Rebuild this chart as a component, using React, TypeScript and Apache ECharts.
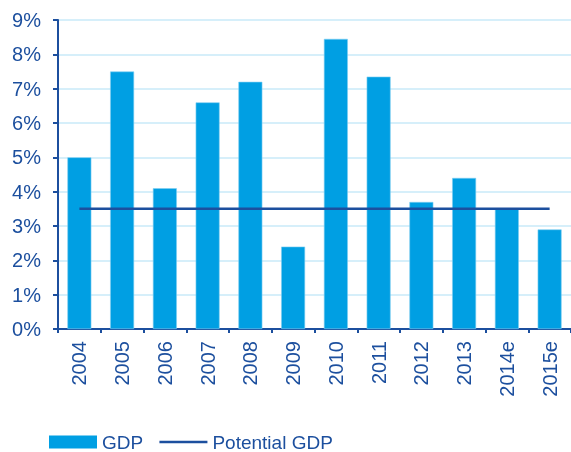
import React, { useEffect, useRef } from "react";
import * as echarts from "echarts";

const categories = ["2004", "2005", "2006", "2007", "2008", "2009", "2010", "2011", "2012", "2013", "2014e", "2015e"];
const gdp = [5.0, 7.5, 4.1, 6.6, 7.2, 2.4, 8.45, 7.35, 3.7, 4.4, 3.5, 2.9];
const potentialGdp = [3.5, 3.5, 3.5, 3.5, 3.5, 3.5, 3.5, 3.5, 3.5, 3.5, 3.5, 3.5];

const DARK = "#1C4F9E";
const BAR = "#009FE3";
const FONT = "'Liberation Sans', Arial, sans-serif";

export default function App() {
  const ref = useRef<HTMLDivElement>(null);
  useEffect(() => {
    if (!ref.current) return;
    const chart = echarts.init(ref.current, undefined, { renderer: "svg" });
    chart.setOption({
      animation: false,
      textStyle: { fontFamily: FONT },
      grid: { left: 58, right: 0, top: 20, bottom: 123, containLabel: false },
      legend: {
        left: 44,
        top: 426,
        itemWidth: 48,
        itemHeight: 13,
        itemGap: 15,
        padding: [5, 5, 5, 5],
        textStyle: { color: DARK, fontSize: 19, fontFamily: FONT, lineHeight: 22 },
        lineStyle: { width: 2.5, color: DARK },
        data: [
          { name: "GDP", icon: "rect", itemStyle: { color: BAR, borderWidth: 0 } },
          { name: "Potential GDP", itemStyle: { opacity: 0 } },
        ],
      },
      xAxis: {
        type: "category",
        data: categories,
        axisLine: { lineStyle: { color: DARK, width: 2 } },
        axisTick: { show: true, length: 4, lineStyle: { color: DARK, width: 2 } },
        axisLabel: { rotate: 90, fontSize: 20, color: DARK, margin: 12, fontFamily: FONT },
      },
      yAxis: {
        type: "value",
        min: 0,
        max: 9,
        interval: 1,
        axisLine: { show: true, lineStyle: { color: DARK, width: 2 } },
        axisTick: { show: true, length: 5, lineStyle: { color: DARK, width: 2 } },
        axisLabel: { formatter: "{value}%", fontSize: 20, color: DARK, margin: 17, fontFamily: FONT },
        splitLine: { show: true, lineStyle: { color: "#C8EAF8", width: 1.5 } },
      },
      series: [
        {
          name: "GDP",
          type: "bar",
          data: gdp,
          barCategoryGap: "44%",
          itemStyle: { color: BAR, borderColor: "#7FCFF1", borderWidth: 0.6 },
        },
        {
          name: "Potential GDP",
          type: "line",
          data: potentialGdp,
          symbol: "none",
          showSymbol: false,
          lineStyle: { color: DARK, width: 2.5 },
          itemStyle: { color: DARK },
        },
      ],
    });
    return () => chart.dispose();
  }, []);
  return (
    <div
      ref={ref}
      style={{ position: "fixed", left: 0, top: 0, width: 571, height: 452 }}
    />
  );
}
